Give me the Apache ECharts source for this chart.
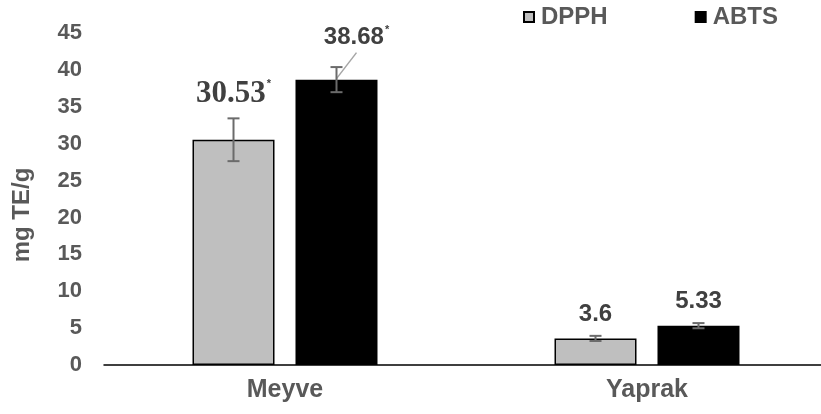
<!DOCTYPE html>
<html>
<head>
<meta charset="utf-8">
<script src="https://cdn.jsdelivr.net/npm/echarts@6/dist/echarts.min.js"></script>
<style>html,body{margin:0;padding:0;background:#fff}#c{width:821px;height:414px}</style>
</head>
<body>
<div id="c"></div>
<script>
const categories = ['Meyve', 'Yaprak'];
const seriesNames = ['DPPH', 'ABTS'];
const dpph = [30.53, 3.6];
const abts = [38.68, 5.33];
const dpphErr = [2.9, 0.35];
const abtsErr = [1.7, 0.35];
const dpphMarks = ['*', ''];
const abtsMarks = ['*', ''];
const yMin = 0, yMax = 45, yStep = 5;

const BAR_W = 82;
const GAP = 0.256;
const HALF = (BAR_W + BAR_W * GAP) / 2;

const chart = echarts.init(document.getElementById('c'), null, {renderer: 'canvas'});

const richBase = {
  v: {fontFamily: 'Liberation Sans, Arial, sans-serif', fontWeight: 'bold', fontSize: 24, color: '#404040'},
  vs: {fontFamily: 'Liberation Serif, Times New Roman, serif', fontWeight: 'bold', fontSize: 31, color: '#404040'},
  s: {fontFamily: 'Liberation Sans, Arial, sans-serif', fontWeight: 'bold', fontSize: 11, color: '#404040', verticalAlign: 'top', padding: [0, 0, 14, 1]}
};

function barData(vals, marks, which) {
  return vals.map((v, i) => {
    const item = {value: v};
    if (which === 0 && i === 0) {
      item.label = {formatter: '{vs|' + v + '}{s|' + marks[i] + '}', distance: 30};
    } else if (which === 1 && i === 0) {
      item.label = {formatter: '{v|' + v + '}{s|' + marks[i] + '}', distance: 30, offset: [20, 0]};
    } else {
      item.label = {formatter: '{v|' + v + '}' + (marks[i] ? '{s|' + marks[i] + '}' : ''), distance: 12};
    }
    return item;
  });
}

function errData(vals, errs, side) {
  return vals.map((v, i) => [i, v, errs[i], side]);
}

function renderErr(params, api) {
  const cat = api.value(0), v = api.value(1), e = api.value(2), side = api.value(3);
  const top = api.coord([cat, v + e]);
  const bot = api.coord([cat, v - e]);
  const x = top[0] + (side === 0 ? -HALF : HALF);
  const cap = 6;
  const st = {stroke: '#6b6b6b', lineWidth: 2};
  return {
    type: 'group',
    children: [
      {type: 'line', shape: {x1: x, y1: top[1], x2: x, y2: bot[1]}, style: st},
      {type: 'line', shape: {x1: x - cap, y1: top[1], x2: x + cap, y2: top[1]}, style: st},
      {type: 'line', shape: {x1: x - cap, y1: bot[1], x2: x + cap, y2: bot[1]}, style: st}
    ]
  };
}

function renderLeader(params, api) {
  const cat = api.value(0), v = api.value(1);
  const p = api.coord([cat, v]);
  const x = p[0] + HALF;
  return {
    type: 'line',
    shape: {x1: x, y1: p[1] - 1, x2: x + 20, y2: p[1] - 27},
    style: {stroke: '#a6a6a6', lineWidth: 1.5}
  };
}

const option = {
  animation: false,
  backgroundColor: '#fff',
  grid: {left: 104, top: 33, width: 724, height: 332, containLabel: false, outerBoundsMode: 'none'},
  legend: {
    data: seriesNames,
    left: 523, top: 5, padding: 0,
    itemWidth: 10, itemHeight: 10, itemGap: 87,
    icon: 'rect',
    textStyle: {fontFamily: 'Liberation Sans, Arial, sans-serif', fontWeight: 'bold', fontSize: 24, color: '#595959', padding: [0, 0, 0, 2]}
  },
  xAxis: {
    type: 'category',
    data: categories,
    axisLine: {show: true, lineStyle: {color: '#000', width: 1.5}},
    axisTick: {show: false},
    axisLabel: {fontFamily: 'Liberation Sans, Arial, sans-serif', fontWeight: 'bold', fontSize: 25, color: '#595959', margin: 13},
    splitLine: {show: false}
  },
  yAxis: {
    type: 'value',
    min: yMin, max: yMax, interval: yStep,
    name: 'mg TE/g',
    nameLocation: 'middle',
    nameGap: 70,
    nameRotate: 90,
    nameTextStyle: {fontFamily: 'Liberation Sans, Arial, sans-serif', fontWeight: 'bold', fontSize: 24, color: '#595959', padding: [0, 32, 0, 0]},
    axisLine: {show: false},
    axisTick: {show: false},
    splitLine: {show: false},
    axisLabel: {fontFamily: 'Liberation Sans, Arial, sans-serif', fontWeight: 'bold', fontSize: 22, color: '#595959', margin: 22}
  },
  series: [
    {
      name: 'DPPH', type: 'bar', barWidth: BAR_W, barGap: (GAP * 100) + '%',
      data: barData(dpph, dpphMarks, 0),
      itemStyle: {color: '#bfbfbf', borderColor: '#000', borderWidth: 1.5},
      label: {show: true, position: 'top', rich: richBase}
    },
    {
      name: 'ABTS', type: 'bar', barWidth: BAR_W,
      data: barData(abts, abtsMarks, 1),
      itemStyle: {color: '#000', borderColor: '#000', borderWidth: 1.5},
      label: {show: true, position: 'top', rich: richBase}
    },
    {type: 'custom', renderItem: renderErr, data: errData(dpph, dpphErr, 0), z: 10, silent: true},
    {type: 'custom', renderItem: renderErr, data: errData(abts, abtsErr, 1), z: 10, silent: true},
    {type: 'custom', renderItem: renderLeader, data: [[0, abts[0]]], z: 9, silent: true}
  ]
};
chart.setOption(option);
</script>
</body>
</html>
